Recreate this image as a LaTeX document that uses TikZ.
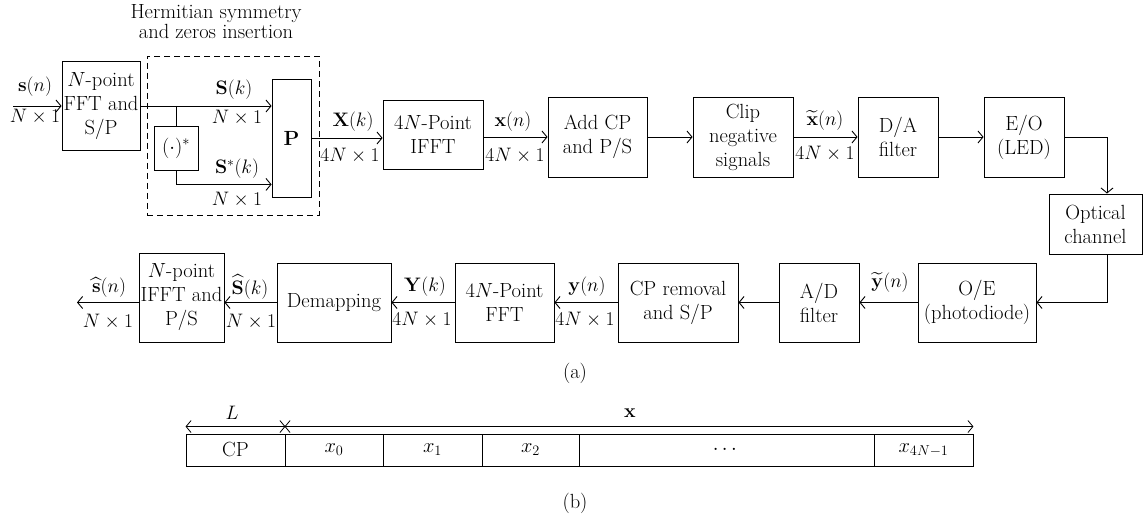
\RequirePackage{fix-cm}
\documentclass[tikz,border=0pt]{standalone}
\usepackage{amsmath}
\usetikzlibrary{arrows.meta,calc}
\begin{document}
\begin{tikzpicture}[x=1pt,y=-1pt,
  every node/.style={font=\fontsize{20.5}{24}\selectfont, inner sep=0pt},
  blk/.style={draw, line width=0.9pt, align=center},
  cell/.style={draw, line width=0.9pt, minimum height=32pt},
  arr/.style={line width=0.9pt, -{Straight Barb[length=5pt,width=12pt]}},
  dim/.style={line width=0.8pt, {Straight Barb[length=5pt,width=12pt]}-{Straight Barb[length=5pt,width=12pt]}},
  lab/.style={inner sep=0pt, font=\fontsize{19.5}{23.5}\selectfont}]
\useasboundingbox (0,0) rectangle (1144,518);

% ---------- (a) transmitter ----------
\node[align=center, font=\fontsize{20.5}{20}\selectfont] (hlab) at (216,22) {Hermitian symmetry\\and zeros insertion};
\node[draw, line width=0.9pt, dash pattern=on 6pt off 4pt, minimum width=172pt, minimum height=159pt] (herm) at (233,135.5) {};

\node[blk, minimum width=78pt, minimum height=89pt] (fft) at (101,106) {$N$-point\\FFT and\\S/P};
\node[blk, minimum width=44pt, minimum height=44pt] (conj) at (176,148) {$(\cdot)^{*}$};
\node[blk, minimum width=39pt, minimum height=118pt] (P) at (291.5,138) {$\mathbf{P}$};
\node[blk, minimum width=100pt, minimum height=69pt] (ifft) at (433,134.5) {4$N$-Point\\IFFT};
\node[blk, minimum width=99pt, minimum height=80pt] (addcp) at (597.5,137) {Add CP\\and P/S};
\node[blk, minimum width=100pt, minimum height=80pt] (clip) at (743,137) {Clip\\negative\\signals};
\node[blk, minimum width=80pt, minimum height=80pt] (da) at (898,137) {D/A\\filter};
\node[blk, minimum width=80pt, minimum height=80pt] (eo) at (1024,137) {E/O\\(LED)};
\node[blk, minimum width=93pt, minimum height=60pt] (opt) at (1095.5,224) {Optical\\channel};

% ---------- (a) receiver ----------
\node[blk, minimum width=118pt, minimum height=79pt] (oe) at (977,302.5) {O/E\\(photodiode)};
\node[blk, minimum width=80pt, minimum height=79pt] (ad) at (819,302.5) {A/D\\filter};
\node[blk, minimum width=120pt, minimum height=79pt] (cprem) at (678,302.5) {CP removal\\and S/P};
\node[blk, minimum width=99pt, minimum height=79pt] (fft2) at (504.5,302.5) {4$N$-Point\\FFT};
\node[blk, minimum width=114pt, minimum height=79pt] (demap) at (334,302.5) {Demapping};
\node[blk, minimum width=85pt, minimum height=89pt] (nifft) at (181.5,297.5) {$N$-point\\IFFT and\\P/S};

\coordinate (in) at (13,106);
\coordinate (out) at (77,302.5);
\coordinate (ch) at (1107,0);

% connectors
\draw[arr] (in) -- (fft.west);
\draw[arr] (fft.east) -- (P.west |- fft.east);
\draw[line width=0.9pt] (conj.north |- fft.east) -- (conj.north);
\draw[arr] (conj.south) |- ($(P.south west)+(0,-13)$);
\draw[arr] (P.east) -- (ifft.west |- P.east);
\draw[arr] (ifft.east |- addcp.west) -- (addcp.west);
\draw[arr] (addcp.east) -- (clip.west);
\draw[arr] (clip.east) -- (da.west);
\draw[arr] (da.east) -- (eo.west);
\draw[arr] (eo.east) -| (ch |- opt.north);
\draw[arr] (ch |- opt.south) |- (oe.east);
\draw[arr] (oe.west) -- (ad.east);
\draw[arr] (ad.west) -- (cprem.east);
\draw[arr] (cprem.west) -- (fft2.east);
\draw[arr] (fft2.west) -- (demap.east);
\draw[arr] (demap.west) -- (nifft.east |- demap.west);
\draw[arr] (nifft.west |- demap.west) -- (out);

% connector labels
\node[lab] (l1a) at (35,87) {$\mathbf{s}(n)$};
\node[lab] (l1b) at (35,117) {$N\times 1$};
\node[lab] (l2a) at (234,90) {$\mathbf{S}(k)$};
\node[lab] (l2b) at (237,118) {$N\times 1$};
\node[lab] (l3a) at (237,169) {$\mathbf{S}^{*}(k)$};
\node[lab] (l3b) at (237,200) {$N\times 1$};
\node[lab] (l4a) at (353,122) {$\mathbf{X}(k)$};
\node[lab] (l4b) at (350,156) {$4N\times 1$};
\node[lab] (l5a) at (513,122) {$\mathbf{x}(n)$};
\node[lab] (l5b) at (515,156) {$4N\times 1$};
\node[lab] (l6a) at (825,120) {$\widetilde{\mathbf{x}}(n)$};
\node[lab] (l6b) at (825,154) {$4N\times 1$};
\node[lab] (l7a) at (890,282) {$\widetilde{\mathbf{y}}(n)$};
\node[lab] (l8a) at (587,287) {$\mathbf{y}(n)$};
\node[lab] (l8b) at (585,320) {$4N\times 1$};
\node[lab] (l9a) at (425,287) {$\mathbf{Y}(k)$};
\node[lab] (l9b) at (422,320) {$4N\times 1$};
\node[lab] (l10a) at (250,287) {$\widehat{\mathbf{S}}(k)$};
\node[lab] (l10b) at (251,322) {$N\times 1$};
\node[lab] (l11a) at (109,287) {$\widehat{\mathbf{s}}(n)$};
\node[lab] (l11b) at (108,322) {$N\times 1$};

\node (capa) at (575,373) {(a)};

% ---------- (b) ----------
\node[cell, minimum width=99pt] (cp) at (235.5,450) {CP};
\node[cell, minimum width=98pt] (c0) at (334,450) {$x_0$};
\node[cell, minimum width=99pt] (c1) at (432.5,450) {$x_1$};
\node[cell, minimum width=97pt] (c2) at (530.5,450) {$x_2$};
\node[cell, minimum width=295pt] (cd) at (726.5,450) {$\cdots$};
\node[cell, minimum width=99pt] (cl) at (923.5,450) {$x_{4N-1}$};

\draw[dim] ($(cp.north west)+(0,-7)$) -- ($(cp.north east)+(0,-7)$);
\draw[dim] ($(c0.north west)+(0,-7)$) -- ($(cl.north east)+(0,-7)$);
\node[lab] (lL) at (232,413) {$L$};
\node[lab] (lx) at (630,413) {$\mathbf{x}$};

\node (capb) at (575,503) {(b)};
\end{tikzpicture}
\end{document}
